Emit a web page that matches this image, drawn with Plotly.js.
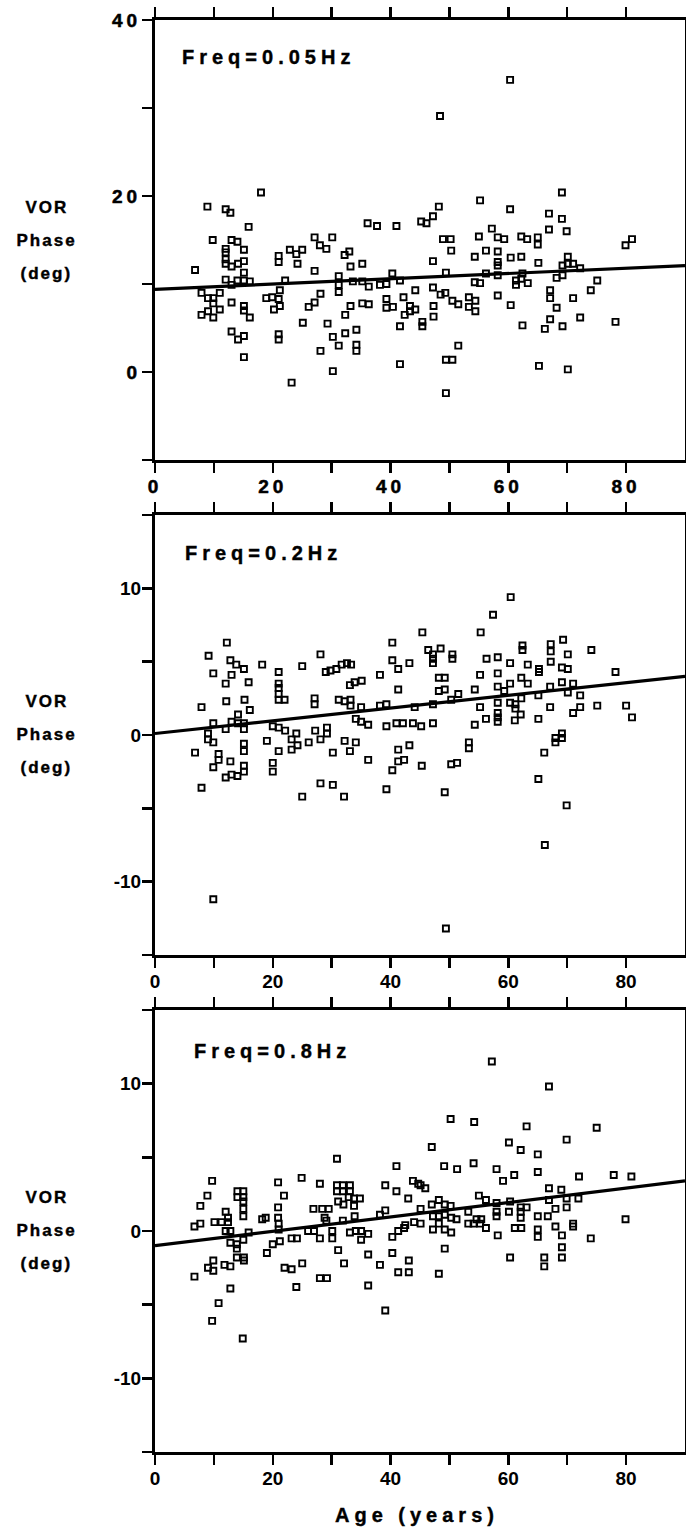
<!DOCTYPE html>
<html>
<head>
<meta charset="utf-8">
<script src="https://cdn.plot.ly/plotly-3.0.1.min.js"></script>
<style>
  html, body { margin: 0; padding: 0; background: #fff; }
  #chart { width: 686px; height: 1531px; }
  .xtick text, .ytick text { letter-spacing: 4px; stroke: #000; stroke-width: 0.5px; }
  .annotation-text { letter-spacing: 5px; stroke: #000; stroke-width: 0.4px; }
</style>
<style id="ylabStyle"></style>
</head>
<body>
<div id="chart"></div>
<script>
// ---------- Data (age in years, VOR phase in degrees) ----------
const panelTitles = ['Freq=0.05Hz', 'Freq=0.2Hz', 'Freq=0.8Hz'];
const xTitle = 'Age (years)';
const yTitleLines = ['VOR', 'Phase', '(deg)'];

const xTickVals = [0, 10, 20, 30, 40, 50, 60, 70, 80];
const xTickText = ['0', '', '20', '', '40', '', '60', '', '80'];
const yTickVals1 = [-10, 0, 10, 20, 30, 40];
const yTickText1 = ['', '0', '', '20', '', '40'];
const yTickVals23 = [-15, -10, -5, 0, 5, 10, 15];
const yTickText23 = ['', '-10', '', '0', '', '10', ''];

// 0.05 Hz
const age05 = [8.9,12.0,12.8,18.0,15.9,36.1,37.7,41.0,48.4,60.3,69.1,55.2,48.2,47.2,45.2,46.1,60.3,66.9,69.1,69.9,57.2,66.9,55.0,58.2,59.3,62.2,63.2,65.0,48.9,50.2,81.0,65.0,79.9,50.3,56.2,58.2,54.3,60.4,62.2,47.2,58.2,58.2,65.1,70.1,69.2,70.1,71.0,72.2,49.4,58.2,62.4,69.2,68.2,75.1,61.3,61.3,62.2,63.3,54.3,55.2,41.6,44.2,42.2,47.2,48.5,49.3,50.5,51.5,53.3,54.4,53.3,54.4,58.2,60.4,67.1,67.1,71.0,74.0,68.2,67.1,72.2,66.2,69.2,78.2,62.4,43.3,44.2,43.3,42.4,47.3,47.3,45.4,45.4,41.6,51.5,49.4,50.5,41.6,65.2,70.1,49.4,56.2,
  9.8,13.0,14.0,12.0,12.0,15.1,12.0,12.0,13.0,14.1,15.1,15.1,6.8,12.0,13.0,14.0,15.1,16.1,7.9,9.0,9.9,11.0,9.9,7.9,9.0,9.9,11.0,13.0,15.1,15.1,16.1,13.0,14.1,15.1,15.1,21.0,21.0,22.9,24.0,25.0,24.2,22.1,27.1,28.0,29.1,30.1,27.1,32.2,33.0,33.2,35.2,31.2,31.2,31.2,18.9,19.9,21.0,21.2,20.2,21.2,28.1,27.1,26.1,25.1,29.3,32.3,30.2,31.2,32.3,34.2,34.2,34.2,28.1,30.2,23.2,21.0,21.0,33.6,35.2,36.3,35.2,36.3,33.2,38.2,39.3,40.3,39.3,39.3,40.4];
const phase05 = [18.8,18.5,18.1,20.4,16.5,16.9,16.6,16.6,29.1,33.2,20.4,19.5,18.8,17.7,17.1,16.9,18.5,18.0,17.4,16.0,16.3,16.2,15.4,15.3,15.1,15.4,15.1,15.3,15.1,15.1,15.1,14.5,14.4,13.8,13.8,13.7,13.1,13.0,13.1,12.6,12.5,12.1,12.4,13.1,12.1,12.3,12.3,11.8,11.3,11.0,11.2,11.0,10.7,10.4,10.4,9.9,10.6,10.1,10.2,10.1,10.4,9.3,8.5,9.6,8.8,9.0,8.1,7.7,8.5,8.1,7.4,6.9,8.7,7.6,9.3,8.4,8.4,9.3,7.3,6.0,6.2,4.9,5.2,5.7,5.3,7.5,7.1,6.9,6.5,7.5,6.3,5.7,5.2,5.2,3.0,1.4,1.4,0.9,0.7,0.3,-2.4,11.2,
  15.0,15.0,14.8,14.0,13.6,13.9,12.8,12.3,12.0,12.3,12.6,11.3,11.6,10.5,9.9,10.4,10.4,10.3,9.0,8.4,8.4,9.0,7.8,6.5,6.9,6.2,7.1,7.9,7.5,7.0,6.2,4.6,3.7,4.1,1.7,13.2,12.5,13.9,13.4,13.9,12.3,10.4,15.3,14.4,14.0,15.3,11.5,13.3,13.7,12.0,12.3,10.9,9.9,9.1,8.4,8.5,8.3,9.3,7.1,7.5,8.9,7.9,7.4,5.6,5.5,6.5,4.0,3.0,4.4,4.8,3.1,2.4,2.4,0.1,-1.2,4.3,3.7,10.3,10.3,9.7,7.8,7.7,7.5,9.9,10.0,11.2,8.3,7.3,7.4];

// 0.2 Hz
const age02 = [12.2,9.1,9.9,12.8,13.8,15.1,13.0,12.0,15.9,18.2,21.0,21.0,21.0,21.0,21.0,22.0,25.0,28.1,29.0,29.8,30.8,31.7,32.6,33.3,33.1,33.9,35.1,38.2,40.3,40.3,41.3,43.2,41.3,7.9,12.1,15.2,16.1,14.1,27.1,27.1,31.2,32.2,33.2,33.2,35.0,38.2,39.3,34.1,35.0,36.2,39.3,41.0,42.1,43.8,
  60.4,57.4,45.4,55.3,46.4,47.2,48.5,47.2,47.2,50.5,50.5,62.4,62.4,67.2,67.2,67.2,69.3,74.1,70.1,56.3,58.2,60.3,63.3,65.2,65.2,69.1,70.1,78.2,55.2,58.2,48.2,49.2,62.2,63.3,48.2,49.2,51.5,54.3,58.2,59.3,60.3,65.1,67.1,69.1,71.0,72.2,70.1,44.1,47.2,50.3,55.2,58.2,58.2,58.2,58.2,60.3,61.2,61.2,62.2,67.1,72.2,71.0,75.1,80.0,81.0,65.1,61.1,62.1,54.3,56.2,45.2,47.2,
  9.9,13.0,14.1,15.1,12.0,15.1,9.0,9.0,9.9,6.8,10.8,10.8,9.9,12.8,15.1,15.1,15.1,15.1,12.0,13.0,14.0,7.9,9.9,20.0,21.0,22.1,19.0,21.0,20.0,20.0,23.2,24.0,24.2,23.2,26.1,27.2,28.1,29.2,29.2,25.0,28.1,30.2,30.2,32.2,34.1,33.1,32.1,36.2,43.2,41.3,41.3,42.3,40.3,39.3,
  45.3,50.3,51.3,53.3,53.3,49.2,65.1,66.1,68.0,68.0,69.1,69.1,69.9,66.2,49.4];
const phase02 = [6.3,5.4,4.2,5.1,4.8,4.5,4.1,3.5,3.6,4.8,4.3,3.5,3.2,2.8,2.4,2.4,4.7,5.5,4.3,4.4,4.5,4.8,4.9,4.8,3.4,3.6,3.7,4.1,6.3,5.1,4.5,4.9,3.1,1.9,2.3,2.4,1.7,1.4,2.5,2.1,2.4,2.3,2.4,2.0,1.9,2.0,2.1,1.1,0.9,0.7,0.6,0.8,0.8,0.8,
  9.4,8.2,7.0,7.0,5.8,5.5,5.9,5.2,4.9,5.5,5.2,6.1,5.8,6.2,5.7,5.0,6.5,5.8,5.5,5.2,5.3,4.9,4.8,4.5,4.3,4.6,4.5,4.3,4.1,4.2,3.9,3.9,3.9,3.5,3.0,3.1,2.8,3.1,3.3,3.0,3.5,2.7,3.3,3.6,3.5,2.7,2.9,1.9,2.1,2.4,1.9,2.2,1.5,1.2,0.9,2.2,2.1,1.8,2.5,1.9,1.9,1.5,2.0,2.0,1.2,1.1,1.0,1.4,0.7,1.1,0.6,0.8,
  0.8,0.9,0.8,0.8,0.4,0.4,0.1,-0.3,-0.5,-1.2,-1.3,-1.7,-2.2,-1.8,-0.6,-1.1,-2.1,-2.5,-2.9,-2.7,-2.8,-3.6,-11.2,0.6,0.5,0.3,-0.4,-1.1,-1.9,-2.5,-0.3,0.1,-0.7,-1.0,-0.5,0.3,-0.3,0.1,0.5,-4.2,-3.3,-3.4,-1.2,-0.4,-0.5,-1.1,-4.2,-1.7,-0.7,-1.0,-1.8,-1.7,-2.4,-3.7,
  -2.1,-2.0,-1.9,-0.5,-0.9,-3.9,-3.0,-1.2,-0.2,-0.5,0.1,-0.2,-4.8,-7.5,-13.2];

// 0.8 Hz
const age08 = [30.9,41.0,9.7,20.9,24.9,28.0,8.9,7.7,21.9,14.0,15.0,14.0,15.0,15.0,15.0,15.0,20.9,20.9,18.8,18.2,12.0,12.4,11.3,12.4,10.1,6.7,7.7,30.9,31.9,33.1,30.9,31.9,33.1,32.9,33.8,34.8,33.8,32.0,31.1,33.9,31.9,26.9,28.4,29.5,28.8,39.1,41.0,43.8,44.7,43.0,38.2,39.1,42.5,44.0,
  57.2,66.9,50.2,54.2,63.1,75.0,69.9,60.1,62.1,65.0,47.0,49.1,51.3,54.1,58.0,59.1,61.0,65.0,72.0,77.9,80.9,66.9,69.0,45.1,45.9,55.0,56.2,58.0,60.3,66.9,69.9,71.9,47.0,48.2,49.2,50.2,45.1,69.9,62.1,63.1,62.1,62.1,58.0,58.0,60.1,53.2,54.6,55.4,47.2,48.2,49.2,50.3,51.2,65.0,66.7,68.0,79.9,45.1,
  12.0,12.8,12.8,13.9,13.9,15.0,15.9,13.9,15.1,15.1,11.8,12.8,9.0,9.9,9.9,6.7,12.8,10.8,9.7,14.9,21.0,21.0,19.0,20.0,21.2,22.0,23.2,23.2,24.1,25.0,24.0,26.0,27.0,28.0,29.1,30.1,30.1,31.1,32.1,28.0,29.2,33.1,34.1,35.0,35.0,36.2,36.2,36.2,38.2,39.1,40.3,41.3,42.3,40.3,43.1,43.1,41.3,
  47.2,49.2,50.3,48.2,49.2,48.2,53.2,54.1,55.2,56.2,58.2,60.3,61.1,62.2,65.0,65.0,66.1,66.1,68.0,69.1,69.1,69.1,71.0,71.0,74.0];
const phase08 = [4.9,4.4,3.4,3.3,3.6,3.2,2.4,1.7,2.4,2.7,2.7,2.3,2.3,2.0,1.5,1.0,1.6,0.9,0.9,0.8,1.3,0.9,0.6,0.6,0.6,0.3,0.5,3.1,3.1,3.1,2.7,2.7,2.7,2.3,2.2,2.2,1.7,1.8,2.0,1.0,0.7,1.5,1.5,1.5,0.9,3.1,2.7,3.4,3.2,2.2,1.1,1.4,0.4,0.6,
  11.5,9.8,7.6,7.4,7.1,7.0,6.2,6.0,5.5,5.2,5.7,4.4,4.2,4.6,4.2,3.4,3.8,4.0,3.7,3.8,3.7,2.9,2.8,3.1,2.9,2.4,2.1,1.9,2.0,2.1,2.2,2.2,1.8,2.1,1.8,1.7,1.5,1.6,1.6,1.6,1.3,0.9,1.3,1.0,1.3,1.3,0.8,0.8,1.0,1.0,1.1,0.9,0.8,1.0,1.0,1.5,0.8,0.5,
  0.0,0.0,-0.8,-0.9,-1.2,-0.6,-0.1,-1.8,-1.8,-2.0,-2.3,-2.4,-2.5,-2.7,-2.0,-3.1,-3.9,-4.9,-6.1,-7.3,0.5,0.1,-1.5,-0.9,-0.7,-2.5,-2.6,-0.5,-0.5,-2.2,-3.8,0.0,0.0,-0.5,0.7,0.0,-0.5,-1.3,-2.2,-3.2,-3.2,-0.1,0.0,0.0,-0.6,-0.2,-1.6,-3.7,-2.3,-5.4,-0.4,0.0,0.2,-1.5,-2.0,-2.8,-2.8,
  0.1,0.1,-0.1,0.5,-1.2,-2.9,0.5,0.5,0.5,0.2,-0.3,-1.8,0.2,0.2,0.1,-0.4,-1.8,-2.4,0.3,-0.3,-1.1,-1.8,0.5,0.3,-0.5];

// Regression lines (end points)
const fitAge = [0, 90];
const fit05 = [9.4, 12.1];
const fit02 = [0.1, 4.0];
const fit08 = [-1.0, 3.4];

// ---------- Traces ----------
const FONT = 'Liberation Sans, Arial, Helvetica, sans-serif';
const markerStyle = { symbol: 'square-open', size: 6, color: '#000', line: { width: 1.9, color: '#000' } };
const sets = [
  { ax: '', age: age05, ph: phase05, fit: fit05 },
  { ax: '2', age: age02, ph: phase02, fit: fit02 },
  { ax: '3', age: age08, ph: phase08, fit: fit08 }
];
const traces = [];
sets.forEach(s => {
  traces.push({ type: 'scatter', mode: 'lines', x: fitAge, y: s.fit, xaxis: 'x' + s.ax, yaxis: 'y' + s.ax,
    line: { color: '#000', width: 3.2 }, hoverinfo: 'skip' });
  traces.push({ type: 'scatter', mode: 'markers', x: s.age, y: s.ph, xaxis: 'x' + s.ax, yaxis: 'y' + s.ax,
    marker: markerStyle, cliponaxis: false });
});

// ---------- Layout ----------
function xAxis(anchor) {
  return {
    anchor: anchor, domain: [0, 1], range: [0, 90],
    tickvals: xTickVals, ticktext: xTickText, showticklabels: true,
    ticks: 'outside', ticklen: 10, tickwidth: 2.5, tickcolor: '#000',
    showline: true, linewidth: 3, linecolor: '#000', mirror: 'ticks',
    showgrid: false, zeroline: false, ticklabelstandoff: -3,
    tickfont: { family: FONT, size: 19, color: '#000', weight: 'bold' }
  };
}
function yAxis(anchor, domain, range, vals, text) {
  return {
    anchor: anchor, domain: domain, range: range,
    tickvals: vals, ticktext: text,
    ticks: 'outside', ticklen: 10, tickwidth: 2.5, tickcolor: '#000',
    showline: true, linewidth: 3, linecolor: '#000', mirror: true,
    showgrid: false, zeroline: false, ticklabelstandoff: -3,
    tickfont: { family: FONT, size: 19, color: '#000', weight: 'bold' }
  };
}

// y-axis title lines first (indices 0..8), then panel titles, then x title
const annotations = [];
const ylabIdx = [];
['', '2', '3'].forEach(ax => {
  yTitleLines.forEach((ln, j) => {
    ylabIdx.push(annotations.length);
    annotations.push({
      text: ln, xref: 'paper', yref: 'y' + ax + ' domain',
      x: -0.204, y: 0.5, yshift: (1 - j) * 33, xanchor: 'center', yanchor: 'middle', showarrow: false,
      font: { family: FONT, size: 17, color: '#000', weight: 'bold' }
    });
  });
});
const titlePos = [[0.047, 0.916], [0.052, 0.914], [0.069, 0.906]];
['', '2', '3'].forEach((ax, i) => {
  annotations.push({
    text: panelTitles[i], xref: 'x' + ax + ' domain', yref: 'y' + ax + ' domain',
    x: titlePos[i][0], y: titlePos[i][1], xanchor: 'left', yanchor: 'middle', showarrow: false,
    font: { family: FONT, size: 20, color: '#000', weight: 'bold' }
  });
});
annotations.push({
  text: xTitle, xref: 'paper', yref: 'paper', x: 0.495, y: -0.044,
  xanchor: 'center', yanchor: 'middle', showarrow: false,
  font: { family: FONT, size: 20, color: '#000', weight: 'bold' }
});
document.getElementById('ylabStyle').textContent =
  ylabIdx.map(i => '.annotation[data-index="' + i + '"] .annotation-text').join(', ') +
  ' { letter-spacing: 2px; }';

const layout = {
  width: 686, height: 1531,
  margin: { l: 155, r: 1, t: 20, b: 79 },
  paper_bgcolor: '#fff', plot_bgcolor: '#fff',
  showlegend: false,
  xaxis: xAxis('y'),
  yaxis: yAxis('x', [0.6927, 1], [-10, 40], yTickVals1, yTickText1),
  xaxis2: xAxis('y2'),
  yaxis2: yAxis('x2', [0.3471, 0.6543], [-15, 15], yTickVals23, yTickText23),
  xaxis3: xAxis('y3'),
  yaxis3: yAxis('x3', [0, 0.3087], [-15, 15], yTickVals23, yTickText23),
  annotations: annotations
};

Plotly.newPlot('chart', traces, layout, { staticPlot: true, displayModeBar: false });
</script>
</body>
</html>
